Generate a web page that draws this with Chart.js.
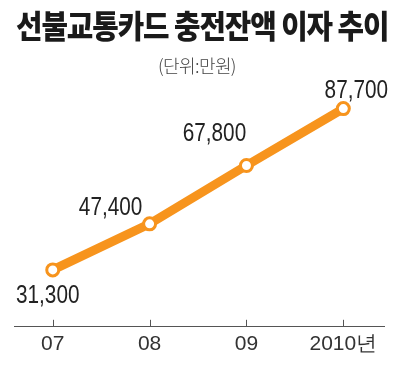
<!DOCTYPE html>
<html><head><meta charset="utf-8">
<script src="https://cdn.jsdelivr.net/npm/chart.js@4/dist/chart.umd.min.js"></script>
<style>
html,body{margin:0;padding:0;background:#fff;}
#wrap{position:relative;width:400px;height:369px;}
#title{position:absolute;left:-4px;top:4px;width:400px;text-align:center;font-family:"Noto Sans CJK KR";font-weight:900;font-size:32px;line-height:40px;letter-spacing:-1.2px;color:#1a1a1a;white-space:nowrap;transform:scaleX(0.9);transform-origin:200px 0;}
#sub{position:absolute;left:0;top:53px;width:394px;text-align:center;font-family:"Noto Sans CJK KR";font-weight:300;font-size:18px;line-height:24px;color:#444;letter-spacing:-0.6px;}
canvas{position:absolute;left:0;top:0;}
</style></head>
<body><div id="wrap">
<canvas id="c" width="400" height="369"></canvas>
<div id="title">선불교통카드 충전잔액 이자 추이</div>
<div id="sub">(단위:만원)</div>
</div>
<script>
const years = ["07", "08", "09", "2010년"];
const balance = [31300, 47400, 67800, 87700];
const valueLabels = ["31,300", "47,400", "67,800", "87,700"];

const orange = "#F7941D";
const labelOffsets = [[-5, 26], [-39, -16], [-32, -31], [13, -18]];

const upTicks = {
  id: "upTicks",
  afterDraw(chart) {
    const {ctx, scales: {x}, chartArea} = chart;
    ctx.save();
    ctx.strokeStyle = "#555";
    ctx.lineWidth = 1;
    years.forEach((_, i) => {
      const px = Math.round(x.getPixelForValue(i)) + 0.5;
      ctx.beginPath();
      ctx.moveTo(px, chartArea.bottom);
      ctx.lineTo(px, chartArea.bottom - 7);
      ctx.stroke();
    });
    ctx.restore();
  }
};

const valueLabelPlugin = {
  id: "valueLabels",
  afterDatasetsDraw(chart) {
    const {ctx} = chart;
    const meta = chart.getDatasetMeta(0);
    meta.data.forEach((pt, i) => {
      ctx.save();
      ctx.translate(pt.x + labelOffsets[i][0], pt.y + labelOffsets[i][1]);
      ctx.scale(0.83, 1);
      ctx.font = '25px "Liberation Sans", sans-serif';
      ctx.fillStyle = "#222";
      ctx.textAlign = "center";
      ctx.textBaseline = "middle";
      ctx.fillText(valueLabels[i], 0, 0);
      ctx.restore();
    });
  }
};

new Chart(document.getElementById("c"), {
  type: "line",
  data: {
    datasets: [{
      data: balance.map((v, i) => ({x: i, y: v})),
      borderColor: orange,
      borderWidth: 9,
      pointRadius: 6,
      pointBorderWidth: 3,
      pointBackgroundColor: "#fff",
      pointBorderColor: orange,
      tension: 0,
      clip: false
    }]
  },
  options: {
    responsive: false,
    animation: false,
    events: [],
    layout: {padding: {left: 14, right: 16, top: 60, bottom: 7}},
    plugins: {legend: {display: false}, tooltip: {enabled: false}},
    scales: {
      x: {
        type: "linear",
        min: -0.4,
        max: 3.42,
        grid: {display: false, drawTicks: false},
        border: {display: true, color: "#555", width: 1},
        ticks: {
          stepSize: 1,
          includeBounds: false,
          autoSkip: false,
          maxRotation: 0,
          padding: 5,
          color: "#333",
          font: {family: '"Liberation Sans", sans-serif', size: 21},
          callback: (v) => Number.isInteger(v) && years[v] !== undefined ? years[v] : ""
        }
      },
      y: {display: false, min: 11400, max: 104700}
    }
  },
  plugins: [upTicks, valueLabelPlugin]
});
</script>
</body></html>
